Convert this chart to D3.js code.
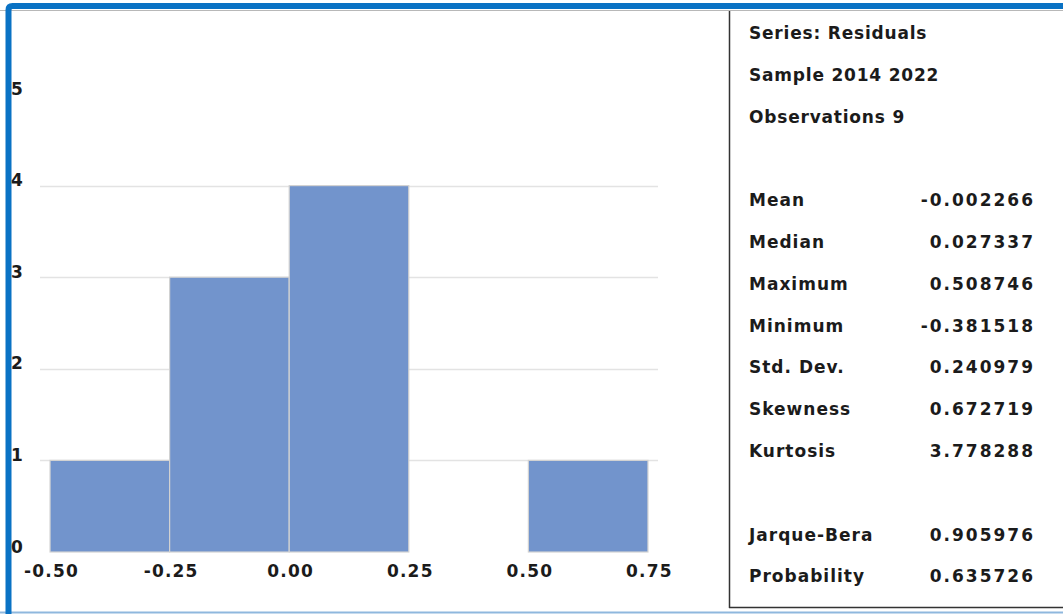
<!DOCTYPE html>
<html>
<head>
<meta charset="utf-8">
<script src="https://cdn.jsdelivr.net/npm/d3@7"></script>
<style>
  html, body { margin: 0; padding: 0; background: #fff; }
  svg { display: block; }
  text { font-family: "DejaVu Sans", "Open Sans", sans-serif; fill: #1b1b1b; }
</style>
</head>
<body>
<svg id="chart" width="1063" height="614"></svg>
<script>
// Histogram bins of the residual series
const binEdges = [-0.50, -0.25, 0.00, 0.25, 0.50, 0.75];
const binCounts = [1, 3, 4, 0, 1];

const xTicks = [-0.50, -0.25, 0.00, 0.25, 0.50, 0.75];
const yTicks = [0, 1, 2, 3, 4, 5];
const gridTicks = [1, 2, 3, 4];

// Descriptive statistics panel
const headerLines = ["Series: Residuals", "Sample 2014 2022", "Observations 9"];
const statNames = ["Mean", "Median", "Maximum", "Minimum", "Std. Dev.", "Skewness", "Kurtosis"];
const statValues = ["-0.002266", "0.027337", "0.508746", "-0.381518", "0.240979", "0.672719", "3.778288"];
const testNames = ["Jarque-Bera", "Probability"];
const testValues = ["0.905976", "0.635726"];

const svg = d3.select("#chart");

const x = d3.scaleLinear().domain([-0.521, 0.771]).range([40, 658]);
const y = d3.scaleLinear().domain([0, 5]).range([552, 94]);

// window frame
svg.append("rect").attr("x", 0).attr("y", 0).attr("width", 1063).attr("height", 614).attr("fill", "#fff");
svg.append("line").attr("x1", 0).attr("x2", 1063).attr("y1", 612.5).attr("y2", 612.5)
  .attr("stroke", "#8fb8de").attr("stroke-width", 2);
svg.append("line").attr("x1", 0).attr("x2", 1063).attr("y1", 10.5).attr("y2", 10.5)
  .attr("stroke", "#b8b8b8").attr("stroke-width", 1);
svg.append("path")
  .attr("d", "M8.5,614 L8.5,10 Q8.5,6 12.5,6 L1063,6")
  .attr("fill", "none").attr("stroke", "#0a72c4").attr("stroke-width", 6);

// gridlines
svg.append("g").selectAll("line").data(gridTicks).join("line")
  .attr("x1", x.range()[0]).attr("x2", x.range()[1])
  .attr("y1", d => Math.round(y(d)) + 0.5).attr("y2", d => Math.round(y(d)) + 0.5)
  .attr("stroke", "#e3e3e3").attr("stroke-width", 1.5);

// bars
const bins = binCounts.map((c, i) => ({ x0: binEdges[i], x1: binEdges[i + 1], n: c })).filter(b => b.n > 0);
svg.append("g").selectAll("rect").data(bins).join("rect")
  .attr("x", d => x(d.x0))
  .attr("y", d => y(d.n))
  .attr("width", d => x(d.x1) - x(d.x0))
  .attr("height", d => y(0) - y(d.n))
  .attr("fill", "#7294cc")
  .attr("stroke", "#d2d2d2")
  .attr("stroke-width", 1.2);

// y axis labels, baseline on the value
const yAxis = d3.axisLeft(y).tickValues(yTicks).tickFormat(d3.format("d")).tickSize(0).tickPadding(0);
const gy = svg.append("g").attr("transform", "translate(11,0)").call(yAxis);
gy.select(".domain").remove();
gy.selectAll("text").attr("text-anchor", "start").attr("x", 0).attr("dy", "0")
  .style("font-size", "17px").style("font-weight", "700").attr("fill", "#1b1b1b");

// x axis labels
const xAxis = d3.axisBottom(x).tickValues(xTicks).tickFormat(d3.format(".2f")).tickSize(0).tickPadding(0);
const gx = svg.append("g").attr("transform", "translate(1,577)").call(xAxis);
gx.select(".domain").remove();
gx.selectAll("text").attr("dy", "0").style("font-size", "17px").style("font-weight", "700")
  .style("letter-spacing", "1.2px").attr("fill", "#1b1b1b")
  .text(d => d3.format(".2f")(d).replace("−", "-"));

// statistics panel
svg.append("line").attr("x1", 729.5).attr("x2", 729.5).attr("y1", 11).attr("y2", 608)
  .attr("stroke", "#333").attr("stroke-width", 1.5);
svg.append("line").attr("x1", 729).attr("x2", 1063).attr("y1", 607.5).attr("y2", 607.5)
  .attr("stroke", "#333").attr("stroke-width", 1.5);

const rowY = i => 39 + i * 41.8;
const panel = svg.append("g").style("font-size", "17px").style("font-weight", "700");

panel.selectAll("text.hdr").data(headerLines).join("text").attr("class", "hdr")
  .attr("x", 749).attr("y", (d, i) => rowY(i)).style("letter-spacing", "0.8px").text(d => d);

const stats = statNames.map((n, i) => ({ n, v: statValues[i], row: 4 + i }))
  .concat(testNames.map((n, i) => ({ n, v: testValues[i], row: 12 + i })));

panel.selectAll("text.name").data(stats).join("text").attr("class", "name")
  .attr("x", 749).attr("y", d => rowY(d.row)).style("letter-spacing", "1px").text(d => d.n);
panel.selectAll("text.val").data(stats).join("text").attr("class", "val")
  .attr("x", 1035).attr("y", d => rowY(d.row)).attr("text-anchor", "end")
  .style("letter-spacing", "2px").text(d => d.v);
</script>
</body>
</html>
